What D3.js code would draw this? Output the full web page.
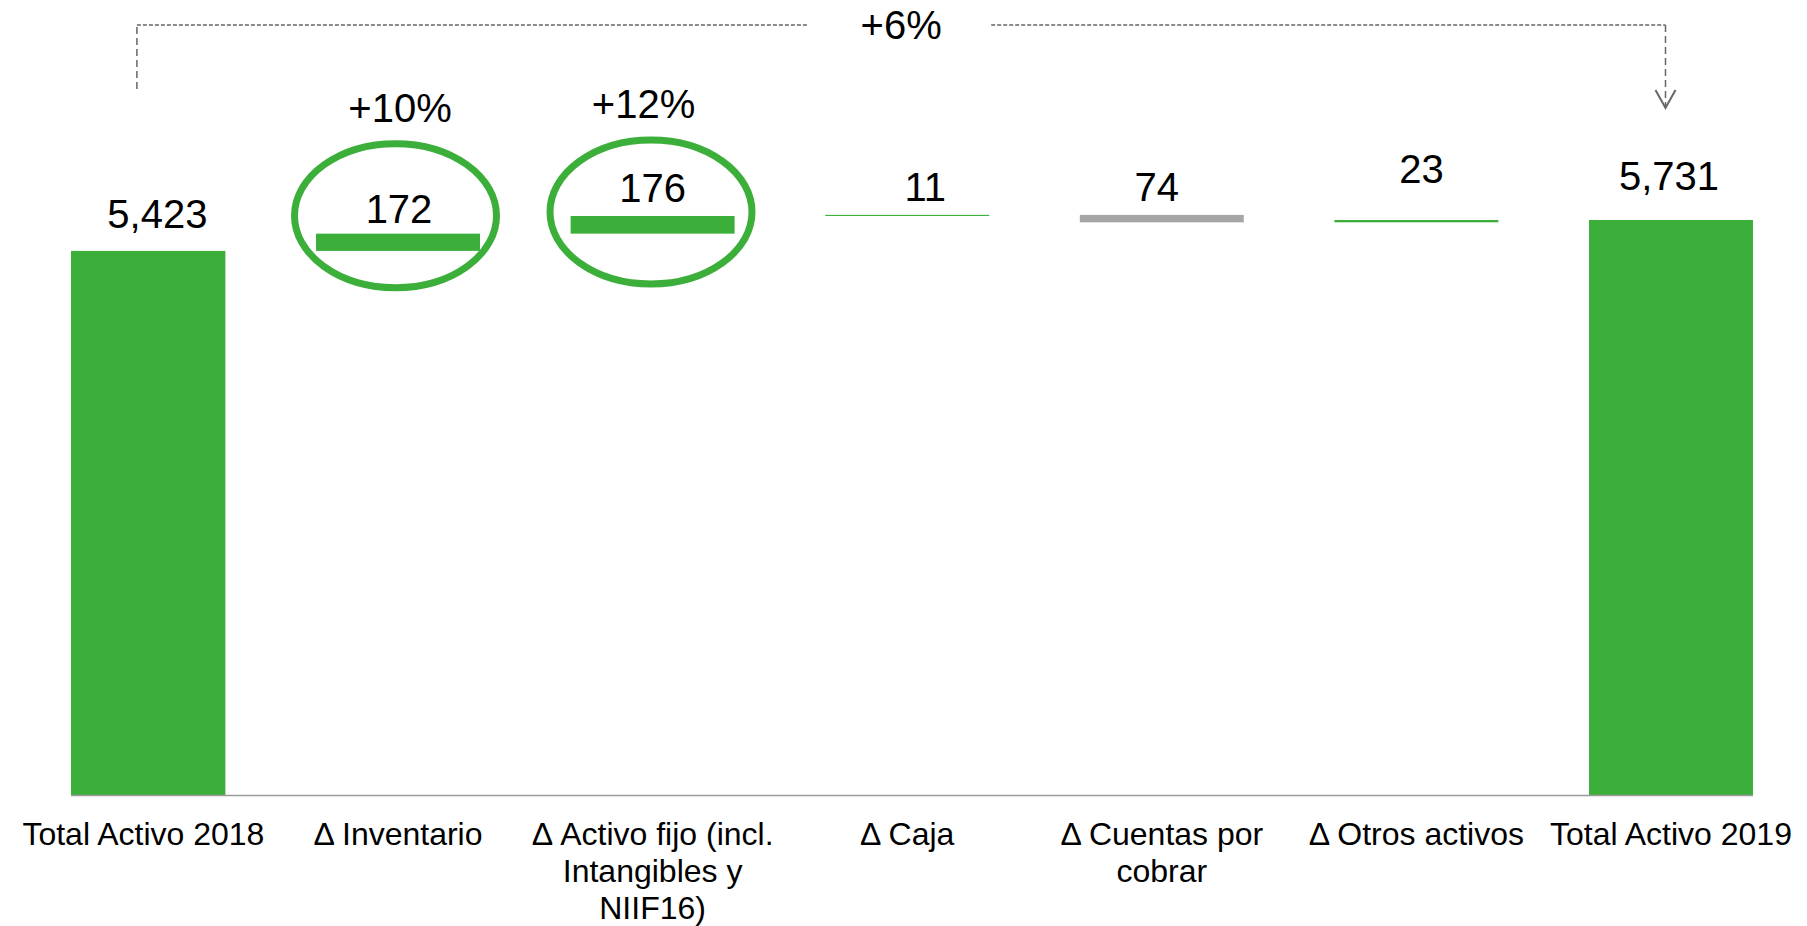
<!DOCTYPE html>
<html><head><meta charset="utf-8">
<script src="https://cdn.jsdelivr.net/npm/d3@7"></script>
<style>html,body{margin:0;padding:0;background:#fff;} svg{display:block;}</style>
</head><body><svg id="chart" width="1807" height="926"></svg>
<script>
// ---------------- DATA ----------------
const categories = ["Total Activo 2018", "Δ Inventario", "Δ Activo fijo (incl. Intangibles y NIIF16)", "Δ Caja", "Δ Cuentas por cobrar", "Δ Otros activos", "Total Activo 2019"];
const tickLabels = [["Total Activo 2018"], ["Δ Inventario"], ["Δ Activo fijo (incl.", "Intangibles y", "NIIF16)"], ["Δ Caja"], ["Δ Cuentas por", "cobrar"], ["Δ Otros activos"], ["Total Activo 2019"]];
const values = [5423, 172, 176, 11, -74, 23, 5731];
const kinds = ["total", "delta", "delta", "delta", "delta", "delta", "total"];
const highlightCategories = ["Δ Inventario", "Δ Activo fijo (incl. Intangibles y NIIF16)"];
const highlightLabels = ["+10%", "+12%"];
const totalChangeLabel = "+6%";

// ---------------- LAYOUT / STYLE ----------------
const W = 1807, H = 926;
const baseY = 795, topValueY = 220;
const plotLeft = 71;
const green = "#3caf3a", gray = "#a6a6a6", dashColor = "#666666";
const font = "'Liberation Sans', Arial, sans-serif";
const valueLabelDx = [14, 1, 0, 18, -5, 5, -2];
const valueLabelGap = [23, 11, 14, 14, 14, 37, 30];
const ellipseDx = [-2.5, -1.6], ellipseDy = [-18, -4];
const ellipseRx = 101, ellipseRy = 72;
const pctDx = [4.5, -7.5];

const svg = d3.select("#chart");

// waterfall computation
let cum = 0;
const bars = values.map((v, i) => {
  let y0, y1;
  if (kinds[i] === "total") { y0 = 0; y1 = v; cum = v; }
  else { y0 = cum; y1 = cum + v; cum = y1; }
  return { cat: categories[i], v, y0, y1, lo: Math.min(y0, y1), hi: Math.max(y0, y1), i };
});

const x = d3.scaleBand().domain(categories).range([10.5, 1803.9]).paddingInner(0.356).paddingOuter(0.2);
const y = d3.scaleLinear().domain([0, d3.max(values)]).range([baseY, topValueY]);

svg.append("defs").append("clipPath").attr("id", "plotclip")
  .append("rect").attr("x", plotLeft).attr("y", 0).attr("width", W - plotLeft).attr("height", H);

// bars
svg.append("g").attr("clip-path", "url(#plotclip)")
  .selectAll("rect").data(bars).join("rect")
  .attr("x", d => x(d.cat))
  .attr("width", x.bandwidth())
  .attr("y", d => y(d.hi))
  .attr("height", d => y(d.lo) - y(d.hi))
  .attr("fill", d => d.v < 0 ? gray : green);

// axis line
const xAxisG = svg.append("g").attr("transform", `translate(0,${baseY})`)
  .call(d3.axisBottom(x).tickSize(0).tickFormat(""));
xAxisG.select(".domain").attr("d", `M${plotLeft},0.5H${x(categories[6]) + x.bandwidth()}`)
  .attr("stroke", "#9a9a9a").attr("stroke-width", 1.5);

// category labels
const catG = svg.append("g");
tickLabels.forEach((lines, i) => {
  const t = catG.append("text")
    .attr("x", x(categories[i]) + x.bandwidth() / 2)
    .attr("y", 845)
    .attr("text-anchor", "middle")
    .attr("font-family", font).attr("font-size", 32).attr("fill", "#000");
  lines.forEach((ln, j) => {
    t.append("tspan").attr("x", x(categories[i]) + x.bandwidth() / 2)
      .attr("y", 845 + j * 37).text(ln);
  });
});

// value labels
const fmt = d3.format(",");
svg.append("g").selectAll("text").data(bars).join("text")
  .attr("x", d => x(d.cat) + x.bandwidth() / 2 + valueLabelDx[d.i])
  .attr("y", d => y(d.hi) - valueLabelGap[d.i])
  .attr("text-anchor", "middle")
  .attr("font-family", font).attr("font-size", 40).attr("fill", "#000")
  .text(d => fmt(Math.abs(d.v)));

// highlight ellipses and percentages
highlightCategories.forEach((c, k) => {
  const b = bars[categories.indexOf(c)];
  const cx = x(c) + x.bandwidth() / 2 + ellipseDx[k];
  const cy = y(b.hi) + ellipseDy[k];
  svg.append("ellipse").attr("cx", cx).attr("cy", cy).attr("rx", ellipseRx).attr("ry", ellipseRy)
    .attr("fill", "none").attr("stroke", green).attr("stroke-width", 7);
  svg.append("text").attr("x", cx + pctDx[k]).attr("y", cy - ellipseRy - 3.5 - 18)
    .attr("text-anchor", "middle").attr("font-family", font).attr("font-size", 40).attr("fill", "#000")
    .text(highlightLabels[k]);
});

// total change bracket
const xl = x(categories[0]) + x.bandwidth() / 2 - 6.5;
const xr = x(categories[6]) + x.bandwidth() / 2 - 5.5;
const bracketY = 25, leftBottom = 89, tipY = 108;
const midX = (xl + xr) / 2;
const gapHalf = 94;
const g = svg.append("g").attr("fill", "none").attr("stroke", dashColor).attr("stroke-width", 1.5);
g.append("path").attr("d", `M${xl},${leftBottom}V${bracketY}`).attr("stroke-dasharray", "7,4");
g.append("path").attr("d", `M${xl},${bracketY}H${midX - gapHalf}`).attr("stroke-dasharray", "4,2");
g.append("path").attr("d", `M${midX + gapHalf - 4},${bracketY}H${xr}`).attr("stroke-dasharray", "4,2");
g.append("path").attr("d", `M${xr},${bracketY}V${tipY - 2}`).attr("stroke-dasharray", "7,4");
g.append("path").attr("d", `M${xr - 10},${tipY - 18}L${xr},${tipY}L${xr + 10},${tipY - 18}`).attr("stroke-width", 2);
svg.append("text").attr("x", midX).attr("y", 39).attr("text-anchor", "middle")
  .attr("font-family", font).attr("font-size", 40).attr("fill", "#000").text(totalChangeLabel);
</script>
</body></html>
